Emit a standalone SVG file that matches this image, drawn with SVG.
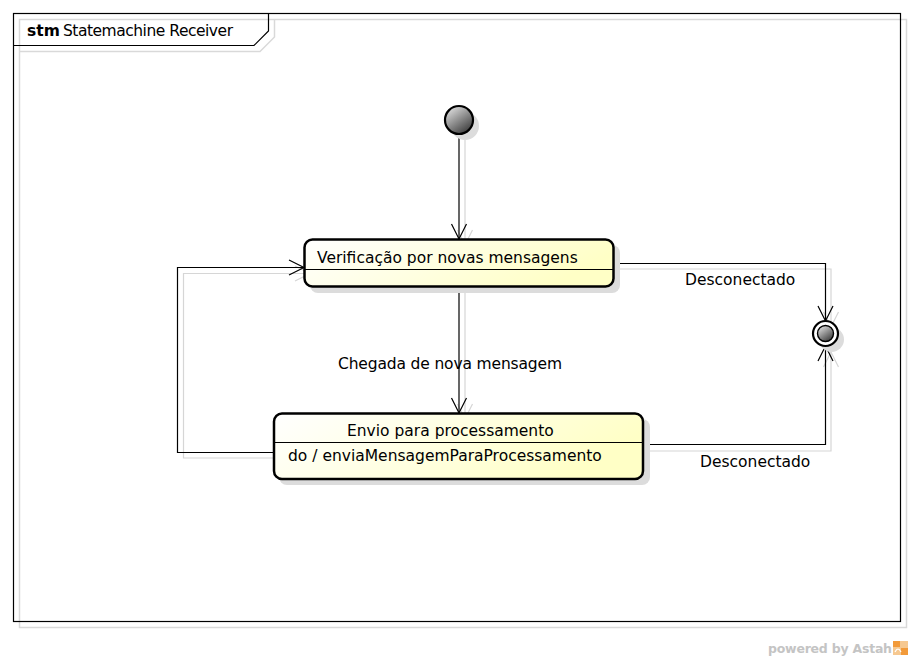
<svg xmlns="http://www.w3.org/2000/svg" width="913" height="661" viewBox="0 0 913 661">
<style>
text{font-family:"DejaVu Sans","Liberation Sans",sans-serif;font-size:15.5px;fill:#000}
.shadow{fill:none;stroke:#d9d9d9;stroke-width:1.5}
.frame{fill:none;stroke:#000;stroke-width:1.2}
.conn{fill:none;stroke:#000;stroke-width:1.2}
.connS{fill:none;stroke:#d6d6d6;stroke-width:1.2}
.state{stroke:#000;stroke-width:2.5;fill:url(#stateGrad)}
.stateS{fill:#dcdcdc;stroke:none}
.div{stroke:#000;stroke-width:1.2}
</style>
<defs>
<linearGradient id="stateGrad" x1="0" y1="0" x2="1" y2="0.3">
<stop offset="0" stop-color="#ffffff"/>
<stop offset="1" stop-color="#ffffc6"/>
</linearGradient>
<linearGradient id="ballGrad" x1="0.2" y1="0.1" x2="0.8" y2="0.95">
<stop offset="0" stop-color="#d6d6d6"/>
<stop offset="1" stop-color="#3c3c3c"/>
</linearGradient>
<marker id="arr" markerUnits="userSpaceOnUse" markerWidth="30" markerHeight="30" viewBox="-20 -15 30 30" refX="0" refY="0" orient="auto">
<path d="M-15,-7.5 L0,0 L-15,7.5" fill="none" stroke="#000" stroke-width="1.2"/>
</marker>
<marker id="arrS" markerUnits="userSpaceOnUse" markerWidth="30" markerHeight="30" viewBox="-20 -15 30 30" refX="0" refY="0" orient="auto">
<path d="M-15,-7.5 L0,0 L-15,7.5" fill="none" stroke="#d6d6d6" stroke-width="1.2"/>
</marker>
</defs>
<rect width="913" height="661" fill="#fff"/>

<g id="frame">
<rect class="shadow" x="19.5" y="19.5" width="887" height="608"/>
<path class="shadow" d="M19.5,51.5 H260 L274.5,37 V19.5"/>
<rect class="frame" x="13.5" y="13.5" width="887" height="608"/>
<path class="frame" d="M13.5,45.5 H254 L268.5,31 V13.5"/>
<text x="27" y="36" style="font-weight:bold">stm</text>
<text x="63" y="36" textLength="170">Statemachine Receiver</text>
</g>

<g id="connectors">
<path class="connS" d="M465,140 V245" marker-end="url(#arrS)"/>
<path class="connS" d="M465,293 V419" marker-end="url(#arrS)"/>
<path class="connS" d="M619,269 H831 V327" marker-end="url(#arrS)"/>
<path class="connS" d="M649,451 H831 V352" marker-end="url(#arrS)"/>
<path class="connS" d="M282,458 H183.5 V273.5 H310" marker-end="url(#arrS)"/>
<path class="conn" d="M459,134 V239" marker-end="url(#arr)"/>
<path class="conn" d="M459,287 V413" marker-end="url(#arr)"/>
<path class="conn" d="M613,263.5 H825.5 V321" marker-end="url(#arr)"/>
<path class="conn" d="M643,444.5 H825.5 V346" marker-end="url(#arr)"/>
<path class="conn" d="M273,452.5 H177.5 V267.5 H304" marker-end="url(#arr)"/>
<text x="338" y="369" textLength="224">Chegada de nova mensagem</text>
<text x="685" y="285">Desconectado</text>
<text x="700" y="467">Desconectado</text>
</g>

<g id="initial">
<circle cx="465" cy="126" r="14" fill="#dcdcdc"/>
<circle cx="459" cy="120" r="14" fill="url(#ballGrad)" stroke="#000" stroke-width="2.2"/>
</g>

<g id="state-verificacao">
<rect class="stateS" x="310" y="245" width="310" height="48" rx="8"/>
<rect class="state" x="304.5" y="239.5" width="309" height="47" rx="8"/>
<line class="div" x1="304.5" y1="269.5" x2="613.5" y2="269.5"/>
<text x="317" y="263">Verificação por novas mensagens</text>
</g>

<g id="state-envio">
<rect class="stateS" x="279" y="419" width="371" height="66" rx="8"/>
<rect class="state" x="274" y="413.5" width="369" height="65.5" rx="8"/>
<line class="div" x1="274" y1="442.5" x2="643" y2="442.5"/>
<text x="347" y="436">Envio para processamento</text>
<text x="288" y="461">do / enviaMensagemParaProcessamento</text>
</g>

<g id="final">
<circle cx="831.5" cy="339.5" r="12.5" fill="#dcdcdc"/>
<circle cx="825.5" cy="333.5" r="12.5" fill="#fff" stroke="#000" stroke-width="2.2"/>
<circle cx="825.5" cy="333.5" r="8" fill="url(#ballGrad)" stroke="#000" stroke-width="1.4"/>
</g>

<g id="watermark">
<text x="768" y="653" style="font-weight:bold;font-size:12.5px;fill:#c4c4c4" textLength="124">powered by Astah</text>
<rect x="893" y="641" width="15" height="14" fill="#f6c890"/>
<path d="M893,641 h7 v6 h-7 z" fill="#f29a3a"/>
<path d="M901,648 h7 v7 h-7 z" fill="#f29a3a"/>
<path d="M895,652 q3,-6 6,0" fill="none" stroke="#fff" stroke-width="1.2"/>
</g>
</svg>
